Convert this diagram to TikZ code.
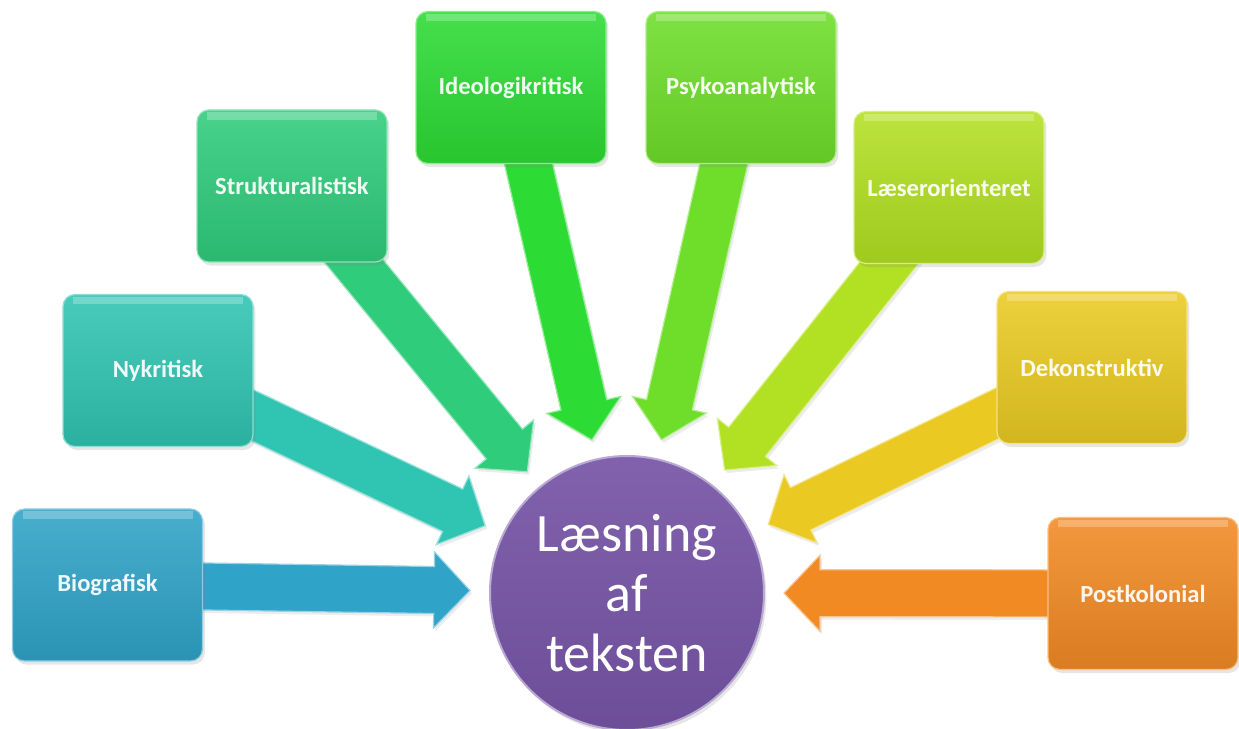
\documentclass[tikz,border=0pt]{standalone}
\usepackage{fontspec}
\setmainfont{Carlito}
\usetikzlibrary{calc,shadows,backgrounds}
\definecolor{cBio}{HTML}{2FA3C8}
\definecolor{cNyk}{HTML}{30C4B2}
\definecolor{cStr}{HTML}{2FCC7B}
\definecolor{cIde}{HTML}{2CDB34}
\definecolor{cPsy}{HTML}{6EDE2A}
\definecolor{cLae}{HTML}{B2E022}
\definecolor{cDek}{HTML}{EACA22}
\definecolor{cPos}{HTML}{F28A24}
\definecolor{cPur}{HTML}{7654A6}
\tikzset{
  boxstyle/.style={rounded corners=6pt, minimum width=95pt, minimum height=76pt,
    inner sep=2pt, top color=#1!88!white, bottom color=#1!90!black,
    draw=#1!55!white, line width=0.6pt, text=white!92!#1,
    font=\fontsize{12.3}{14}\selectfont\bfseries,
    drop shadow={opacity=0.2, shadow xshift=1.2pt, shadow yshift=-1.8pt},
    path picture={\fill[white, opacity=0.25, sharp corners]
      ([xshift=5pt,yshift=-1.2pt]path picture bounding box.north west) rectangle
      ([xshift=-5pt,yshift=-5pt]path picture bounding box.north east);}},
  arrowstyle/.style={fill=#1, draw=#1!50!white, line width=0.6pt, line join=miter,
    drop shadow={opacity=0.15, shadow xshift=1pt, shadow yshift=-1.5pt}},
  centerstyle/.style={circle, minimum size=137pt, inner sep=0pt, align=center,
    top color=cPur!92!white, bottom color=cPur!92!black, draw=cPur!50!white,
    line width=1pt, text=white, font=\fontsize{27}{30}\selectfont,
    drop shadow={opacity=0.2, shadow xshift=1.2pt, shadow yshift=-1.8pt}}
}
\newcommand{\radarrow}[2]{%
  \coordinate (#1-tip) at ($(c.center)!78.5pt!(#1.center)$);
  \coordinate (#1-hb) at ($(c.center)!96.5pt!(#1.center)$);
  \path[arrowstyle=#2] (#1-tip)
    -- ($(#1-hb)!19pt!90:(#1.center)$)
    -- ($(#1-hb)!11.75pt!90:(#1.center)$)
    -- ($(#1.center)!11.75pt!-90:(c.center)$)
    -- ($(#1.center)!11.75pt!90:(c.center)$)
    -- ($(#1-hb)!11.75pt!-90:(#1.center)$)
    -- ($(#1-hb)!19pt!-90:(#1.center)$)
    -- cycle;
}
\begin{document}
\begin{tikzpicture}[x=0.5pt,y=0.5pt]
\useasboundingbox (0,0) rectangle (1239,729);
\node[centerstyle] (c) at (627,136) {Læsning\\af\\teksten};
\node[boxstyle=cBio] (bio) at (107.5,144) {Biografisk};
\node[boxstyle=cNyk] (nyk) at (158,358.5) {Nykritisk};
\node[boxstyle=cStr] (str) at (292,543) {Strukturalistisk};
\node[boxstyle=cIde] (ide) at (511,641.5) {Ideologikritisk};
\node[boxstyle=cPsy] (psy) at (741,641.5) {Psykoanalytisk};
\node[boxstyle=cLae] (lae) at (949,541.5) {Læserorienteret};
\node[boxstyle=cDek] (dek) at (1092,361.5) {Dekonstruktiv};
\node[boxstyle=cPos] (pos) at (1143,135.5) {Postkolonial};
\begin{pgfonlayer}{background}
\radarrow{bio}{cBio}
\radarrow{nyk}{cNyk}
\radarrow{str}{cStr}
\radarrow{ide}{cIde}
\radarrow{psy}{cPsy}
\radarrow{lae}{cLae}
\radarrow{dek}{cDek}
\radarrow{pos}{cPos}
\end{pgfonlayer}
\end{tikzpicture}
\end{document}
